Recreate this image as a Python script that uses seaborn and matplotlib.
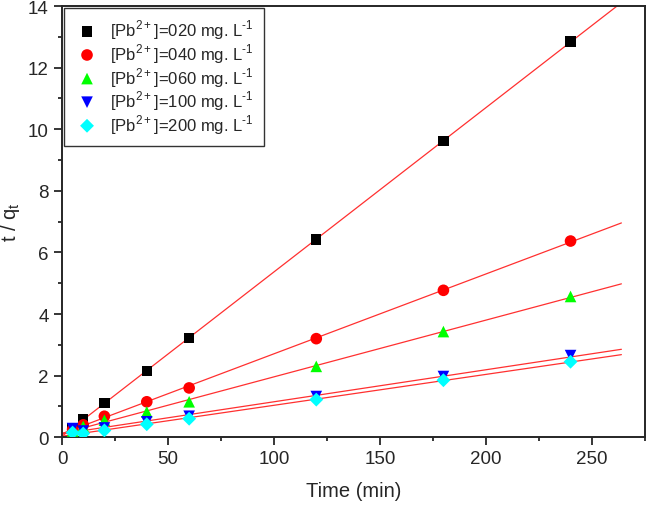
import numpy as np
import pandas as pd
import seaborn as sns
import matplotlib.pyplot as plt
from matplotlib.ticker import MultipleLocator

# t/qt vs time, pseudo-second-order plot

time = [5, 10, 20, 40, 60, 120, 180, 240]
labels = ['020', '040', '060', '100', '200']
tq_020 = [0.30, 0.58, 1.12, 2.15, 3.22, 6.42, 9.62, 12.85]
tq_040 = [0.25, 0.40, 0.68, 1.15, 1.60, 3.20, 4.77, 6.37]
tq_060 = [0.20, 0.35, 0.55, 0.82, 1.15, 2.30, 3.43, 4.57]
tq_100 = [0.28, 0.20, 0.30, 0.50, 0.68, 1.32, 1.97, 2.65]
tq_200 = [0.15, 0.12, 0.22, 0.42, 0.60, 1.22, 1.85, 2.45]

series = [tq_020, tq_040, tq_060, tq_100, tq_200]
colors = ['black', 'red', '#00ff00', '#0000ff', '#00ffff']
markers = ['s', 'o', '^', 'v', 'D']
sizes = [55, 70, 70, 70, 50]

sns.set_style('ticks')
plt.rcParams['font.family'] = ['Liberation Sans', 'DejaVu Sans']
plt.rcParams['mathtext.fontset'] = 'custom'
plt.rcParams['mathtext.rm'] = 'Liberation Sans'

fig = plt.figure(figsize=(6.46, 5.06), dpi=100)
ax = fig.add_axes([0.096, 0.134, 0.902, 0.852])

fit_x = np.linspace(0, 264, 50)
for lab, vals, c, m, s in zip(labels, series, colors, markers, sizes):
    df = pd.DataFrame({'time': time, 'tq': vals})
    sns.scatterplot(data=df, x='time', y='tq', color=c, marker=m, s=s,
                    edgecolor='none', ax=ax, zorder=3,
                    label=r'[Pb$^{\mathregular{2+}}$]=' + lab + r' mg. L$^{\mathregular{‐1}}$')
    k, b = np.polyfit(time, vals, 1)
    sns.lineplot(x=fit_x, y=k * fit_x + b, color='#ff3030', linewidth=0.9,
                 ax=ax, zorder=2)

ax.set_xlim(0, 275)
ax.set_ylim(0, 14)
ax.xaxis.set_major_locator(MultipleLocator(50))
ax.xaxis.set_minor_locator(MultipleLocator(25))
ax.yaxis.set_major_locator(MultipleLocator(2))
ax.yaxis.set_minor_locator(MultipleLocator(1))
ax.tick_params(which='major', length=5.5, width=1.3, labelsize=13.5, direction='out', pad=4)
ax.tick_params(which='minor', length=3, width=1.3, direction='out')
for sp in ax.spines.values():
    sp.set_linewidth(1.4)

ax.set_xlabel('Time (min)', fontsize=14.5, labelpad=10)
ax.set_ylabel(r't / q$_\mathregular{t}$', fontsize=14.5)
ax.yaxis.set_label_coords(-0.068, 0.5)

leg = ax.legend(loc='upper left', fontsize=12, frameon=True, fancybox=False,
                edgecolor='black', borderaxespad=0.1, handletextpad=0.6,
                labelspacing=0.0, borderpad=0.6, handlelength=1.6)
leg.get_frame().set_linewidth(1.0)

fig.savefig('out.png', dpi=100)
